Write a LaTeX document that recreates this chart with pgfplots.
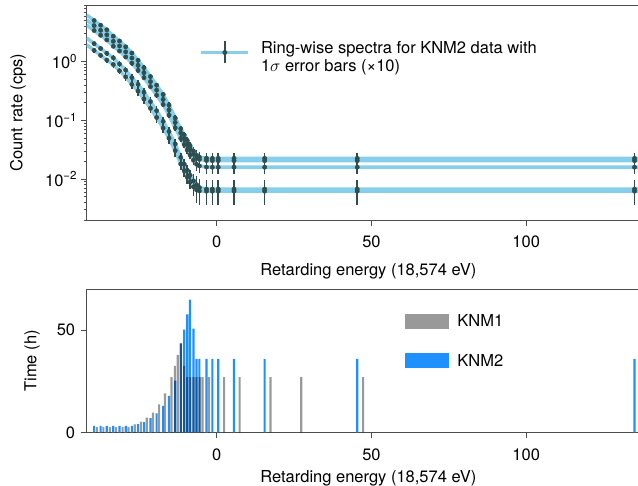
\documentclass[border=0pt]{standalone}
\usepackage{fontspec}
\setmainfont{TeX Gyre Heros}
\usepackage{pgfplots}
\pgfplotsset{compat=1.18}
\usepackage{pgfplotstable}
\definecolor{skyb}{HTML}{87CEEB}
\definecolor{dslate}{HTML}{2F4F4F}
\definecolor{dodger}{HTML}{1E90FF}

\pgfplotstableread{
E T1 T2 T3 B1 B2 rT rB
-39.6 5.05 4.14 3.41 2.04 1.565 0.047 0.085
-37.5 4.20 3.44 2.83 1.686 1.288 0.051 0.092
-35.5 3.51 2.88 2.36 1.394 1.072 0.057 0.103
-33.4 2.73 2.235 1.84 1.166 0.898 0.064 0.115
-31.4 2.26 1.86 1.526 0.914 0.702 0.070 0.126
-29.4 1.80 1.477 1.208 0.719 0.552 0.080 0.144
-27.4 1.41 1.158 0.948 0.536 0.411 0.091 0.164
-25.4 1.059 0.869 0.712 0.411 0.316 0.095 0.171
-23.5 0.796 0.652 0.535 0.302 0.2317 0.098 0.176
-21.4 0.560 0.459 0.377 0.2095 0.1606 0.100 0.180
-19.4 0.399 0.328 0.268 0.146 0.1122 0.104 0.187
-17.3 0.277 0.228 0.1866 0.0962 0.0739 0.106 0.191
-15.4 0.182 0.151 0.1226 0.0647 0.0496 0.113 0.203
-13.4 0.1104 0.0923 0.0749 0.0398 0.0305 0.122 0.220
-11.6 0.0722 0.0610 0.0492 0.0234 0.0180 0.117 0.210
-10.5 0.0566 0.0483 0.0387 0.0180 0.0138 0.123 0.220
-9.5 0.0454 0.0392 0.0312 0.0141 0.0108 0.130 0.234
-8.6 0.0373 0.0326 0.0258 0.0116 0.00886 0.135 0.243
-7.5 0.0299 0.0265 0.0209 0.0093 0.00734 0.170 0.306
-6.5 0.0256 0.0230 0.0179 0.0080 0.00652 0.220 0.396
-5.6 0.0237 0.0216 0.0167 0.00715 0.00626 0.230 0.414
-3.3 0.0226 0.0207 0.0160 0.00674 0.0062 0.235 0.420
-1.4 0.0225 0.0206 0.0159 0.00674 0.0062 0.235 0.420
0.5 0.0225 0.0206 0.0159 0.00674 0.0062 0.235 0.420
5.6 0.0225 0.0206 0.0159 0.00674 0.0062 0.235 0.420
15.5 0.0225 0.0206 0.0159 0.00674 0.0062 0.235 0.420
45.4 0.0225 0.0206 0.0159 0.00674 0.0062 0.235 0.420
135 0.0225 0.0206 0.0159 0.00674 0.0062 0.235 0.420
}\spectra

\pgfplotstableread{
E T1 T2 T3 B1 B2
-42 6.3 5.15 4.21 2.54 1.95
-39.6 5.05 4.14 3.41 2.04 1.565
-37.5 4.20 3.44 2.83 1.686 1.288
-35.5 3.51 2.88 2.36 1.394 1.072
-33.4 2.73 2.235 1.84 1.166 0.898
-31.4 2.26 1.86 1.526 0.914 0.702
-29.4 1.80 1.477 1.208 0.719 0.552
-27.4 1.41 1.158 0.948 0.536 0.411
-25.4 1.059 0.869 0.712 0.411 0.316
-23.5 0.796 0.652 0.535 0.302 0.2317
-21.4 0.560 0.459 0.377 0.2095 0.1606
-19.4 0.399 0.328 0.268 0.146 0.1122
-17.3 0.277 0.228 0.1866 0.0962 0.0739
-15.4 0.182 0.151 0.1226 0.0647 0.0496
-13.4 0.1104 0.0923 0.0749 0.0398 0.0305
-11.6 0.0722 0.0610 0.0492 0.0234 0.0180
-10.5 0.0566 0.0483 0.0387 0.0180 0.0138
-9.5 0.0454 0.0392 0.0312 0.0141 0.0108
-8.6 0.0373 0.0326 0.0258 0.0116 0.00886
-7.5 0.0299 0.0265 0.0209 0.0093 0.00734
-6.5 0.0256 0.0230 0.0179 0.0080 0.00652
-5.6 0.0237 0.0216 0.0167 0.00715 0.00626
-3.3 0.0226 0.0207 0.0160 0.00674 0.0062
-1.4 0.0225 0.0206 0.0159 0.00674 0.0062
140 0.0225 0.0206 0.0159 0.00674 0.0062
}\model

\newcommand{\lblfont}{\fontsize{16.5}{17.5}\selectfont}
\pgfplotsset{
  common/.style={
    scale only axis, width=563.3pt, xmin=-42, xmax=140,
    xtick={0,50,100}, xtick pos=bottom, ytick pos=left,
    /pgf/number format/assume math mode=true,
    tick align=outside, major tick length=6pt, minor tick length=3pt,
    axis line style={line width=0.8pt, black!70},
    every tick/.style={line width=0.8pt, black!70},
    tick label style={font=\lblfont},
    xlabel={Retarding energy (18,574 eV)},
  },
  model/.style={skyb, line width=3.5pt, line join=round, forget plot},
  pts/.style={only marks, mark=*, mark size=2.2pt, dslate, mark options={draw=dslate, fill=dslate}, forget plot,
    error bars/y dir=both, error bars/y explicit relative, error bars/error mark=none,
    error bars/error bar style={line width=1.6pt, dslate}},
}

\begin{document}
\begin{tikzpicture}
\begin{axis}[common, at={(0pt,0pt)}, anchor=south west, height=215pt,
  ymode=log, ymin=0.002, ymax=9.3,
  ytick={0.01,0.1,1},
  yticklabels={10\textsuperscript{−2},10\textsuperscript{−1},10\textsuperscript{0}},
  minor ytick={0.002,0.003,0.004,0.005,0.006,0.007,0.008,0.009,0.02,0.03,0.04,0.05,0.06,0.07,0.08,0.09,0.2,0.3,0.4,0.5,0.6,0.7,0.8,0.9,2,3,4,5,6,7,8,9},
  xticklabel style={yshift=-6pt},
  ylabel={Count rate (cps)},
  every axis y label/.style={at={(rel axis cs:0,0.5)}, xshift=-68.7pt, rotate=90, anchor=center, font=\lblfont},
  every axis x label/.style={at={(rel axis cs:0.5,0)}, yshift=-40pt, anchor=north, font=\lblfont},
  legend style={at={(rel axis cs:0.195,0.85)}, anchor=north west, draw=none, fill=none,
    font=\lblfont, nodes={align=left},
    /tikz/every odd column/.style={column sep=9pt}},
  legend cell align=left,
]
\addlegendimage{legend image code/.code={
  \draw[skyb, line width=3.3pt] (0pt,4.5pt) -- (47pt,4.5pt);
  \draw[dslate, line width=1.6pt] (23.5pt,-6.5pt) -- (23.5pt,15.5pt);
  \fill[dslate] (23.5pt,4.5pt) circle (2.2pt);}}
\addlegendentry{Ring-wise spectra for KNM2 data with\\1$\sigma$ error bars (×10)}
\addplot[model] table[x=E,y=T1]{\model};
\addplot[model] table[x=E,y=T2]{\model};
\addplot[model] table[x=E,y=T3]{\model};
\addplot[model] table[x=E,y=B1]{\model};
\addplot[model] table[x=E,y=B2]{\model};
\addplot[pts] table[x=E,y=T1,y error=rT]{\spectra};
\addplot[pts] table[x=E,y=T2,y error=rT]{\spectra};
\addplot[pts] table[x=E,y=T3,y error=rT]{\spectra};
\addplot[pts] table[x=E,y=B1,y error=rB]{\spectra};
\addplot[pts] table[x=E,y=B2,y error=rB]{\spectra};
\end{axis}

\begin{axis}[common, at={(0pt,-212.3pt)}, anchor=south west, height=143pt,
  ymin=0, ymax=70, ytick={0,50},
  xticklabel style={yshift=-7pt},
  yticklabel style={xshift=-2pt},
  ylabel={Time (h)},
  every axis y label/.style={at={(rel axis cs:0,0.5)}, xshift=-54.7pt, rotate=90, anchor=center, font=\lblfont},
  every axis x label/.style={at={(rel axis cs:0.5,0)}, yshift=-35pt, anchor=north, font=\lblfont},
  legend style={at={(rel axis cs:0.56,0.85)}, anchor=north west, draw=none, fill=none,
    font=\lblfont, row sep=21.5pt,
    /tikz/every odd column/.style={column sep=6pt}},
  legend cell align=left, reverse legend,
]
\addplot[ybar, bar width=0.7, bar shift=0pt, fill=dodger, draw=none,
  legend image code/.code={\fill[dodger] (0pt,-7.5pt) rectangle (44pt,7.5pt);}]
coordinates {(-39.6,3.2) (-37.5,3.2) (-35.5,3.2) (-33.4,3.2) (-31.4,3.2) (-29.4,3.2) (-27.4,3.2) (-25.4,4.0) (-23.5,5.0) (-21.4,6.9) (-19.4,9.3) (-17.3,12.9) (-15.4,17.8) (-13.4,25.3) (-11.6,43.5) (-10.5,50.3) (-9.5,57.7) (-8.6,65) (-7.5,50.7) (-6.5,36) (-5.6,36) (-3.3,36) (-1.4,36) (0.5,36) (5.6,36) (15.5,36) (45.4,36) (135,36)};
\addlegendentry{KNM2}
\addplot[ybar, bar width=0.7, bar shift=0pt, fill=black, fill opacity=0.4, draw=none,
  legend image code/.code={\fill[black, fill opacity=0.4] (0pt,-7.5pt) rectangle (44pt,7.5pt);}]
coordinates {(-38.7,2.5) (-36.6,2.5) (-34.5,2.5) (-32.5,2.5) (-30.4,2.5) (-28.5,2.5) (-26.5,3.9) (-24.5,5.2) (-22.6,7.2) (-20.6,9.6) (-18.6,13.7) (-16.7,19.1) (-14.6,27) (-13.5,32.5) (-12.6,37.9) (-11.5,43.5) (-10.5,32.5) (-9.5,27) (-8.5,27) (-7.5,27) (-6.5,27) (-5.5,27) (-4.6,27) (-2.5,27) (2.4,27) (7.4,27) (17.4,27) (27.3,27) (47.3,27)};
\addlegendentry{KNM1}
\end{axis}
\pgfresetboundingbox
\path[use as bounding box] (-86.7pt,-266pt) rectangle (551.3pt,220pt);
\end{tikzpicture}
\end{document}
